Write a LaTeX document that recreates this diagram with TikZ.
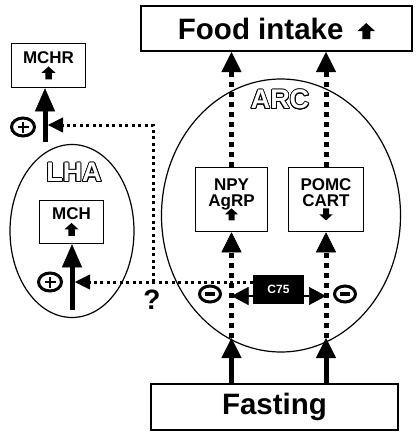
\documentclass[tikz,border=0pt]{standalone}
\usepackage{fontspec}
\setmainfont{Liberation Sans}
\usepackage{contour}
\usetikzlibrary{arrows.meta,shapes.geometric}
\contourlength{0.9pt}

\newcommand\blkup[1]{\tikz[x=#1,y=#1,baseline=0pt]\fill[black] (-0.55,0.5)--(0,1)--(0.55,0.5)--(0.25,0.5)--(0.25,0)--(-0.25,0)--(-0.25,0.5)--cycle;}
\newcommand\blkdown[1]{\tikz[x=#1,y=#1,baseline=0pt]\fill[black] (-0.55,0.5)--(0,0)--(0.55,0.5)--(0.25,0.5)--(0.25,1)--(-0.25,1)--(-0.25,0.5)--cycle;}

\tikzset{
	box/.style={draw, line width=1.5pt, align=center, inner sep=0pt, font=\bfseries\fontsize{17}{16}\selectfont},
	bigbox/.style={draw, line width=2pt, inner sep=0pt, font=\bfseries\fontsize{29.5}{29}\selectfont},
	area/.style={ellipse, draw, line width=1.2pt, inner sep=0pt},
	arealabel/.style={font=\bfseries\fontsize{27}{27}\selectfont},
	shaft/.style={line width=5pt},
	dotthick/.style={line width=5pt, dash pattern=on 5pt off 5pt},
	dotthin/.style={line width=3pt, dash pattern=on 3pt off 3.5pt},
	plussign/.style={ellipse, draw, line width=3pt, minimum width=23pt, minimum height=18pt, inner sep=0pt,
		path picture={\draw[line width=2.5pt] ([xshift=-5.5pt]path picture bounding box.center) -- ([xshift=5.5pt]path picture bounding box.center)
			([yshift=-5.5pt]path picture bounding box.center) -- ([yshift=5.5pt]path picture bounding box.center);}},
	minussign/.style={ellipse, draw, line width=3pt, minimum width=21pt, minimum height=16pt, inner sep=0pt,
		path picture={\draw[line width=4pt] ([xshift=-5pt]path picture bounding box.center) -- ([xshift=5pt]path picture bounding box.center);}},
	tipbig/.tip={Triangle[length=23pt,width=20pt,line width=0.5pt]},
	tipmid/.tip={Triangle[length=20pt,width=20pt,line width=0.5pt]},
	tipside/.tip={Triangle[length=15pt,width=15pt,line width=0.5pt]},
	tipc/.tip={Triangle[length=17pt,width=18pt,line width=0.5pt]}
}

\begin{document}
\begin{tikzpicture}[x=1pt,y=-1pt]
	\useasboundingbox (0,0) rectangle (418,436);
	\node[bigbox, minimum width=271pt, minimum height=45pt] (food) at (276.5,28.5) {Food intake\hspace{14pt}\blkup{16pt}};
	\node[bigbox, minimum width=247pt, minimum height=46pt] (fast) at (274.5,407) {Fasting};
	\node[box, minimum width=74pt, minimum height=44pt] (mchr) at (48.5,65.5) {MCHR\\\blkup{13pt}};
	\node[area, minimum width=124pt, minimum height=173pt] (lha) at (72,231) {};
	\node[arealabel] (lhalbl) at (74,173) {\contour{black}{\color{white}LHA}};
	\node[box, minimum width=64pt, minimum height=43pt] (mch) at (71.5,222) {MCH\\\blkup{13pt}};
	\node[area, minimum width=239pt, minimum height=273pt] (arc) at (281,215.5) {};
	\node[arealabel] (arclbl) at (280,100) {\contour{black}{\color{white}ARC}};
	\node[box, minimum width=72pt, minimum height=64pt] (npy) at (231.5,199.5) {NPY\\AgRP\\[-2pt]\blkup{12pt}};
	\node[box, minimum width=75pt, minimum height=64pt] (pomc) at (326,199.5) {POMC\\CART\\[-2pt]\blkdown{12pt}};
	\node[fill=black, minimum width=51pt, minimum height=29pt, inner sep=0pt, text=white, font=\bfseries\fontsize{12}{12}\selectfont] (c75) at (278.5,289.5) {C75};
	\node[font=\bfseries\fontsize{28}{28}\selectfont] (qmark) at (152,300) {?};
	\node[plussign] (plusa) at (23,127) {};
	\node[plussign] (plusb) at (50,282) {};
	\node[minussign] (minusa) at (210,294) {};
	\node[minussign] (minusb) at (345,294) {};

	\coordinate (mchrfoot) at (45,142);
	\coordinate (mchfoot) at (72,310);
	\coordinate (mchrin) at (48,125);
	\coordinate (mchin) at (75,282);
	\coordinate (junc) at (153,282);
	\coordinate (npyenter) at (231.5,338);
	\coordinate (pomcenter) at (326,338);
	\coordinate (c75l) at ([yshift=-6.5pt]c75.west);
	\coordinate (c75r) at ([yshift=-6.5pt]c75.east);

	\draw[shaft, -tipbig] (mchrfoot) -- (mchrfoot |- mchr.south);
	\draw[shaft, -tipbig] (mchfoot) -- (mchfoot |- mch.south);
	\draw[dotthin, -tipside] ([yshift=7.5pt]c75.west) -- (mchin);
	\draw[dotthin, -tipside] (junc) |- (mchrin);

	\draw[shaft, -tipmid] (fast.north -| npyenter) -- (npyenter);
	\draw[dotthick, -tipmid] (npyenter) -- (npy.south);
	\draw[dotthick, -tipmid] (npy.north) -- (npy.north |- food.south);
	\draw[shaft, -tipmid] (fast.north -| pomcenter) -- (pomcenter);
	\draw[dotthick, -tipmid] (pomcenter) -- (pomc.south);
	\draw[dotthick, -tipmid] (pomc.north) -- (pomc.north |- food.south);

	\draw[line width=2pt, -tipc] (c75l) -- (c75l -| npy.south);
	\draw[line width=2pt, -tipc] (c75r) -- (c75r -| pomc.south);
\end{tikzpicture}
\end{document}
